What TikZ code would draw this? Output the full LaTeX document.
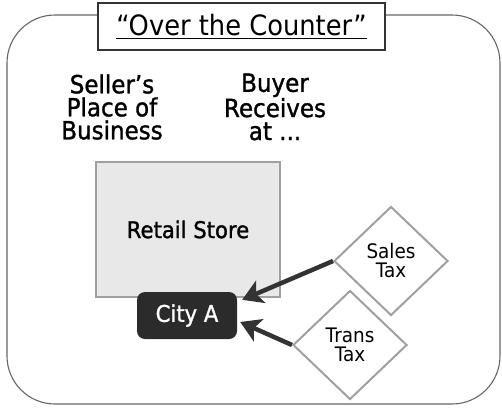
\documentclass[tikz,border=0pt]{standalone}
\usepackage{fontspec}
\setmainfont[FakeStretch=0.92]{DejaVu Sans}
\newfontfamily\semibold[FakeStretch=0.92,FakeBold=1.2]{DejaVu Sans}
\usetikzlibrary{arrows.meta,shapes.geometric}
\definecolor{storefill}{HTML}{E8E8E8}
\definecolor{storeline}{HTML}{A0A0A0}
\definecolor{cityfill}{HTML}{2B2B2B}
\definecolor{arrowcol}{HTML}{333333}
\definecolor{framecol}{HTML}{666666}
\tikzset{
  frame/.style={draw=framecol, line width=1.1pt, rounded corners=48pt},
  titlebox/.style={draw=arrowcol, line width=2.5pt, fill=white, minimum width=287pt, minimum height=47pt, inner sep=0pt},
  heading/.style={align=center, font=\semibold\fontsize{25}{23}\selectfont, inner sep=0pt},
  storebox/.style={draw=storeline, line width=2.5pt, fill=storefill, minimum width=184pt, minimum height=135pt, inner sep=0pt, font=\semibold\fontsize{23}{23}\selectfont},
  citybox/.style={fill=cityfill, rounded corners=8pt, minimum width=100pt, minimum height=47pt, inner sep=0pt, text=white, font=\semibold\fontsize{23}{23}\selectfont},
  taxbox/.style={shape=diamond, draw=storeline, line width=2pt, fill=white, minimum width=114pt, minimum height=109pt, inner sep=0pt, align=center, font=\fontsize{20}{19}\selectfont},
  arr/.style={draw=arrowcol, line width=4.5pt, -{Stealth[length=20pt,width=24pt,inset=5pt]}}
}
\begin{document}
\begin{tikzpicture}[x=1pt,y=-1pt]
\useasboundingbox (0,0) rectangle (502,408);
\draw[frame] (7,15) rectangle (500,404);
\node[titlebox] (title) at (241.5,26.5) {\fontsize{28}{28}\selectfont\underline{“Over the Counter”}};
\node[heading] (seller) at (112,107) {Seller’s\\Place of\\Business};
\node[heading] (buyer) at (275,107) {Buyer\\Receives\\at ...};
\node[storebox] (store) at (188,229.5) {Retail Store};
\node[citybox] (city) at (187,315.5) {City A};
\node[taxbox] (sales) at (391,261) {Sales\\Tax};
\node[taxbox] (trans) at (350,345) {Trans\\Tax};
\draw[arr] (sales.west) -- ([shift={(5,8)}]city.north east);
\draw[arr] (trans.west) -- ([shift={(3,6.5)}]city.east);
\end{tikzpicture}
\end{document}
